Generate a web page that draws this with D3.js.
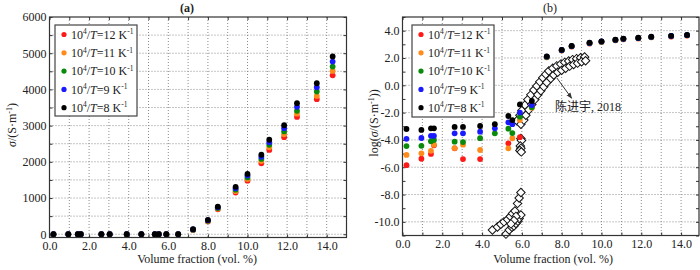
<!DOCTYPE html>
<html><head><meta charset="utf-8">
<script src="https://cdn.jsdelivr.net/npm/d3@7"></script>
<style>
body{margin:0;background:#fff}
svg{display:block}
text{font-family:"Liberation Serif","Times New Roman","Noto Sans CJK SC",serif;fill:#222}
</style>
</head><body><svg id="c" width="700" height="270"></svg>
<script>
// ---------------- data ----------------
const volFrac = [0.2, 0.95, 1.43, 1.58, 2.62, 3.04, 3.9, 4.64, 5.32, 5.52, 5.9, 6.5, 7.25, 8.0, 8.5, 9.4, 10.0, 10.7, 11.1, 11.85, 12.5, 13.5, 14.3];
const seriesLabels = ["12", "11", "10", "9", "8"];
const seriesColors = ["#ff1a1a", "#ff8c1a", "#0a8a0a", "#1a1aff", "#000000"];

// panel (a): sigma (S/m)
const sigmaT12 = [0,0,0,0,0,0,0,0,0,0,0,0, 115, 355, 690, 1150, 1480, 1960, 2330, 2680, 3240, 3730, 4390];
const sigmaT11 = [0,0,0,0,0,0,0,0,0,0,0,0, 120, 365, 705, 1190, 1525, 2020, 2400, 2760, 3330, 3820, 4510];
const sigmaT10 = [0,0,0,0,0,0,0,0,0,0,0,0, 125, 375, 725, 1230, 1570, 2080, 2470, 2840, 3410, 3940, 4630];
const sigmaT9  = [0,0,0,0,0,0,0,0,0,0,0,0, 132, 385, 745, 1270, 1620, 2140, 2540, 2930, 3520, 4060, 4770];
const sigmaT8  = [0,0,0,0,0,0,0,0,0,0,0,0, 140, 395, 760, 1310, 1665, 2195, 2610, 3010, 3620, 4170, 4910];

// panel (b): log(sigma)
const logT12 = [-5.85, -5.38, -5.03, -4.4, -4.62, -5.4, -5.4, null, -4.25, null, -3.8, -1.5, 2.05, 2.55, 2.84, 3.06, 3.17, 3.29, 3.37, 3.43, 3.51, 3.57, 3.64];
const logT11 = [-5.1, -4.98, -4.8, -4.35, -4.6, -4.35, -4.74, null, -4.62, -3.88, -2.55, -1.65, 2.06, 2.56, 2.85, 3.07, 3.18, 3.3, 3.38, 3.44, 3.52, 3.58, 3.65];
const logT10 = [-4.45, -4.43, -4.1, -4.0, -4.13, -4.16, -3.87, -3.52, -3.18, -3.5, -2.3, -1.6, 2.08, 2.57, 2.86, 3.09, 3.19, 3.32, 3.39, 3.45, 3.53, 3.6, 3.67];
const logT9  = [-3.92, -3.86, -3.7, -3.7, -3.52, -3.52, -3.4, -3.15, -2.71, -2.85, -2.0, -1.45, 2.1, 2.59, 2.87, 3.1, 3.21, 3.33, 3.4, 3.47, 3.55, 3.61, 3.68];
const logT8  = [-3.2, -3.27, -3.15, -3.15, -3.05, -3.05, -2.98, -2.85, -2.25, -2.55, -1.4, -1.15, 2.12, 2.6, 2.88, 3.12, 3.22, 3.34, 3.42, 3.48, 3.56, 3.62, 3.69];

// reference data (陈进宇, 2018), panel (b)
const refX = [5.95, 5.98, 5.92, 5.95, 5.9, 5.97,
  5.75, 5.9, 6.0, 6.15, 6.3, 6.45, 6.6, 6.75, 6.9, 7.05, 7.2, 7.35, 7.55, 7.75, 7.95, 8.15, 8.35, 8.55, 8.75, 8.95, 9.15,
  5.95, 6.1, 6.2, 6.35, 6.5, 6.65, 6.8, 6.95, 7.1, 7.25, 7.45, 7.6, 7.8, 8.0, 8.2, 8.4, 8.6, 8.8, 9.0, 9.2,
  4.52, 4.77, 4.94, 5.1, 5.28, 5.42, 5.53, 5.65, 5.78, 5.86, 5.95, 5.2, 5.36, 5.5, 5.6, 5.7, 5.8, 5.86, 5.95, 5.7, 5.6, 5.45];
const refY = [-3.9, -4.05, -4.45, -4.62, -4.78, -4.88,
  -2.6, -2.2, -1.85, -1.45, -1.05, -0.7, -0.35, -0.05, 0.25, 0.55, 0.8, 1.05, 1.25, 1.42, 1.55, 1.68, 1.78, 1.88, 1.95, 2.02, 2.07,
  -2.85, -2.55, -2.2, -1.8, -1.4, -1.05, -0.7, -0.4, -0.1, 0.2, 0.5, 0.75, 0.95, 1.1, 1.25, 1.4, 1.52, 1.62, 1.72, 1.8,
  -10.6, -10.38, -10.18, -10.0, -9.82, -9.6, -9.38, -9.2, -8.65, -8.25, -7.85, -10.9, -10.6, -10.4, -10.3, -10.12, -9.95, -9.75, -9.5, -9.6, -9.9, -10.15];

const xTickLabels = [0, 2, 4, 6, 8, 10, 12, 14];
const yTicksA = [0, 1000, 2000, 3000, 4000, 5000, 6000];
const yTicksB = [4, 2, 0, -2, -4, -6, -8, -10];

// ---------------- drawing ----------------
const svg = d3.select("#c");
const sigmaSeries = [sigmaT12, sigmaT11, sigmaT10, sigmaT9, sigmaT8];
const logSeries = [logT12, logT11, logT10, logT9, logT8];
const serif = '"Liberation Serif","Times New Roman",serif';

function drawPanel(cfg) {
  const g = svg.append("g");
  const x = d3.scaleLinear().domain(cfg.xDomain).range([cfg.left, cfg.right]);
  const y = d3.scaleLinear().domain(cfg.yDomain).range([cfg.bottom, cfg.top]);
  const gridX = d3.range(1, Math.floor(cfg.xDomain[1]) + 1);
  g.append("g").selectAll("line").data(gridX).join("line")
    .attr("x1", d => x(d)).attr("x2", d => x(d)).attr("y1", cfg.top).attr("y2", cfg.bottom)
    .attr("stroke", "#8a8a8a").attr("stroke-width", 1).attr("stroke-dasharray", "1,2");
  g.append("g").selectAll("line").data(cfg.yGrid).join("line")
    .attr("x1", cfg.left).attr("x2", cfg.right).attr("y1", d => y(d)).attr("y2", d => y(d))
    .attr("stroke", "#8a8a8a").attr("stroke-width", 1).attr("stroke-dasharray", "1,2");

  const fmtX = d3.format(".1f");
  const axB = g.append("g").attr("transform", `translate(0,${cfg.bottom})`)
    .call(d3.axisBottom(x).tickValues(d3.range(0, 15, 1)).tickSize(-3).tickPadding(cfg.xPad)
      .tickFormat(d => xTickLabels.includes(d) ? fmtX(d) : ""));
  const axT = g.append("g").attr("transform", `translate(0,${cfg.top})`)
    .call(d3.axisTop(x).tickValues(d3.range(0, 15, 1)).tickSize(-3).tickFormat(""));
  const axL = g.append("g").attr("transform", `translate(${cfg.left},0)`)
    .call(d3.axisLeft(y).tickValues(cfg.yMinor).tickSize(-3).tickPadding(3)
      .tickFormat(d => cfg.yTicks.includes(d) ? cfg.fmtY(d) : ""));
  const axR = g.append("g").attr("transform", `translate(${cfg.right},0)`)
    .call(d3.axisRight(y).tickValues(cfg.yMinor).tickSize(-3).tickFormat(""));
  [axB, axT, axL, axR].forEach(a => {
    a.attr("font-family", serif);
    a.select(".domain").remove();
    a.selectAll(".tick line").attr("stroke", "#333");
    a.selectAll("text").attr("font-size", 12).attr("fill", "#222").style("font-family", serif);
  });
  return {g, x, y};
}

function frame(g, cfg) {
  g.append("rect").attr("x", cfg.left).attr("y", cfg.top)
    .attr("width", cfg.right - cfg.left).attr("height", cfg.bottom - cfg.top)
    .attr("fill", "none").attr("stroke", "#333").attr("stroke-width", 1.2);
}

function legend(g, lx, ly, w, h, x0) {
  const lg = g.append("g");
  lg.append("rect").attr("x", lx).attr("y", ly).attr("width", w).attr("height", h)
    .attr("fill", "#fff").attr("stroke", "#444").attr("stroke-width", 1.2);
  seriesLabels.forEach((s, i) => {
    const cy = ly + 9.5 + i * 18.3;
    lg.append("circle").attr("cx", lx + x0).attr("cy", cy).attr("r", 2.6).attr("fill", seriesColors[i]);
    const t = lg.append("text").attr("x", lx + x0 + 7).attr("y", cy + 4.2).attr("font-size", 12);
    t.append("tspan").text("10");
    t.append("tspan").attr("font-size", 7.5).attr("dy", -4.5).text("4");
    t.append("tspan").attr("dy", 4.5).text("/");
    t.append("tspan").attr("font-style", "italic").text("T");
    t.append("tspan").text("=" + s + " K");
    t.append("tspan").attr("font-size", 7.5).attr("dy", -4.5).text("-1");
  });
}

function sigmaUnit(t) {
  t.append("tspan").text("S·m");
  t.append("tspan").attr("font-size", 8).attr("dy", -4.5).text("-1");
  t.append("tspan").attr("dy", 4.5).text(")");
}

// ---- panel (a) ----
const cfgA = {left: 49.5, right: 346.5, top: 17, bottom: 237.5,
  xDomain: [0, 15], yDomain: [-90, 6000], xPad: 3.5,
  yGrid: d3.range(0, 6000, 500), yMinor: d3.range(0, 6001, 500), yTicks: yTicksA,
  fmtY: d => String(d)};
const A = drawPanel(cfgA);
sigmaSeries.forEach((vals, si) => {
  A.g.append("g").selectAll("circle").data(volFrac.map((v, i) => [v, vals[i]]).filter(d => d[1] !== null))
    .join("circle").attr("cx", d => A.x(d[0])).attr("cy", d => A.y(d[1])).attr("r", 2.9)
    .attr("fill", seriesColors[si]);
});
frame(A.g, cfgA);
legend(A.g, 55, 25, 82, 91, 9);
svg.append("text").attr("x", 187).attr("y", 12).attr("text-anchor", "middle")
  .attr("font-size", 12).attr("font-weight", "bold").text("(a)");
svg.append("text").attr("x", 197).attr("y", 263).attr("text-anchor", "middle")
  .attr("font-size", 12).text("Volume fraction (vol. %)");
{
  const t = svg.append("text").attr("transform", "translate(16,125) rotate(-90)")
    .attr("text-anchor", "middle").attr("font-size", 12);
  t.append("tspan").attr("font-style", "italic").text("σ");
  t.append("tspan").text("/(");
  sigmaUnit(t);
}

// ---- panel (b) ----
const cfgB = {left: 402.5, right: 699, top: 17, bottom: 235.5,
  xDomain: [0, 14.9], yDomain: [-11, 5], xPad: 4,
  yGrid: yTicksB, yMinor: d3.range(-11, 5.01, 1), yTicks: yTicksB,
  fmtY: d => d3.format(".1f")(d).replace("−", "-")};
const B = drawPanel(cfgB);
const diamond = d3.symbol().type(d3.symbolSquare).size(36);
B.g.append("g").selectAll("path").data(refX.map((v, i) => [v, refY[i]]))
  .join("path").attr("d", diamond)
  .attr("transform", d => `translate(${B.x(d[0])},${B.y(d[1])}) rotate(45)`)
  .attr("fill", "#fff").attr("stroke", "#111").attr("stroke-width", 1);
logSeries.forEach((vals, si) => {
  B.g.append("g").selectAll("circle").data(volFrac.map((v, i) => [v, vals[i]]).filter(d => d[1] !== null))
    .join("circle").attr("cx", d => B.x(d[0])).attr("cy", d => B.y(d[1])).attr("r", 2.9)
    .attr("fill", seriesColors[si]);
});
frame(B.g, cfgB);
legend(B.g, 412, 25, 82, 92, 9);
// annotation
svg.append("defs").append("marker").attr("id", "ah").attr("viewBox", "0 0 10 10")
  .attr("refX", 9).attr("refY", 5).attr("markerWidth", 6).attr("markerHeight", 6).attr("orient", "auto")
  .append("path").attr("d", "M0,1 L10,5 L0,9 z").attr("fill", "#333");
svg.append("line").attr("x1", B.x(7.75)).attr("y1", B.y(0.55)).attr("x2", B.x(8.5)).attr("y2", B.y(-0.95))
  .attr("stroke", "#333").attr("stroke-width", 1).attr("marker-end", "url(#ah)");
svg.append("text").attr("x", 555).attr("y", 111).attr("font-size", 12).attr("fill", "#444")
  .style("font-family", '"Liberation Serif","Noto Sans CJK SC",serif').text("陈进宇, 2018");
svg.append("text").attr("x", 550).attr("y", 12).attr("text-anchor", "middle")
  .attr("font-size", 12).text("(b)");
svg.append("text").attr("x", 553).attr("y", 263).attr("text-anchor", "middle")
  .attr("font-size", 12).text("Volume fraction (vol. %)");
{
  const t = svg.append("text").attr("transform", "translate(378,123) rotate(-90)")
    .attr("text-anchor", "middle").attr("font-size", 12);
  t.append("tspan").text("log(");
  t.append("tspan").attr("font-style", "italic").text("σ");
  t.append("tspan").text("/(");
  sigmaUnit(t);
  t.append("tspan").text(")");
}
</script>
</body></html>
